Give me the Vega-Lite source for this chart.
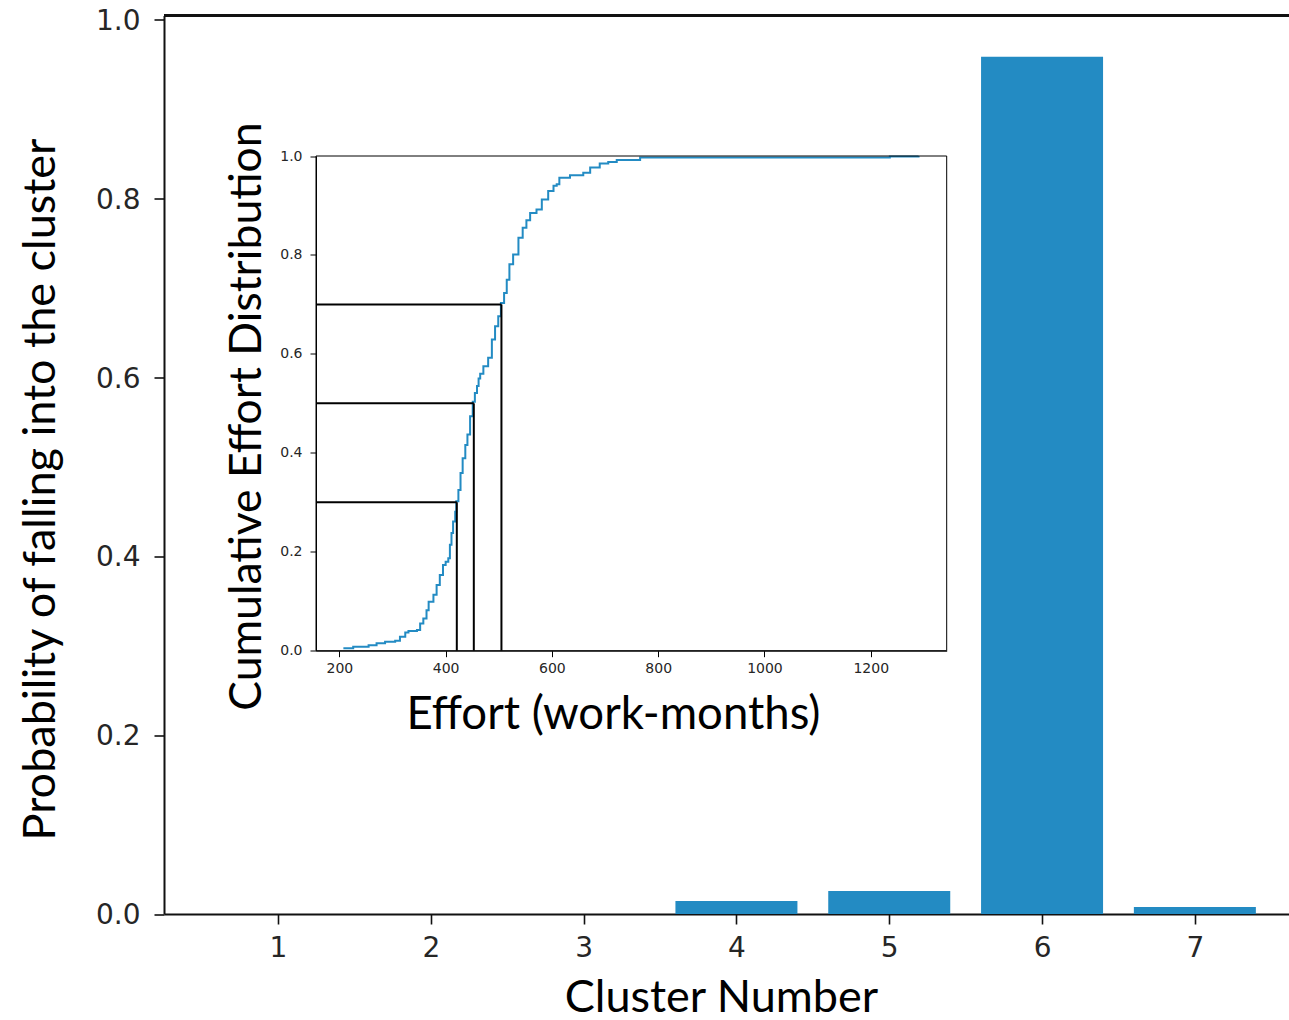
{
  "$schema": "https://vega.github.io/schema/vega-lite/v6.json",
  "width": 1125,
  "height": 898.5,
  "autosize": "none",
  "padding": {"left": 164, "top": 15.5, "right": 0, "bottom": 106},
  "background": "white",
  "config": {
    "view": {"stroke": null},
    "axis": {"grid": false, "domainColor": "#111", "tickColor": "#111", "labelColor": "#262626", "titleColor": "#000", "titleFontWeight": "normal", "labelFont": "DejaVu Sans", "labelOverlap": false}
  },
  "datasets": {
    "bars": [
      {"cluster": 1, "probability": 0},
      {"cluster": 2, "probability": 0},
      {"cluster": 3, "probability": 0},
      {"cluster": 4, "probability": 0.0145},
      {"cluster": 5, "probability": 0.0257},
      {"cluster": 6, "probability": 0.9588},
      {"cluster": 7, "probability": 0.0078}
    ],
    "cdf": [
      {"effort": 207.5, "cdf": 0.005},
      {"effort": 226, "cdf": 0.008},
      {"effort": 255, "cdf": 0.011},
      {"effort": 270, "cdf": 0.015},
      {"effort": 286, "cdf": 0.018},
      {"effort": 305, "cdf": 0.02},
      {"effort": 314, "cdf": 0.028},
      {"effort": 324, "cdf": 0.037},
      {"effort": 330, "cdf": 0.04},
      {"effort": 346, "cdf": 0.042},
      {"effort": 352, "cdf": 0.055},
      {"effort": 358, "cdf": 0.065},
      {"effort": 364, "cdf": 0.082},
      {"effort": 368, "cdf": 0.099},
      {"effort": 377, "cdf": 0.113},
      {"effort": 383, "cdf": 0.133},
      {"effort": 389, "cdf": 0.153},
      {"effort": 395, "cdf": 0.173},
      {"effort": 400, "cdf": 0.18},
      {"effort": 405, "cdf": 0.187},
      {"effort": 408, "cdf": 0.214},
      {"effort": 411, "cdf": 0.238},
      {"effort": 414, "cdf": 0.261},
      {"effort": 418, "cdf": 0.281},
      {"effort": 420, "cdf": 0.302},
      {"effort": 424, "cdf": 0.325},
      {"effort": 428, "cdf": 0.359},
      {"effort": 432, "cdf": 0.389},
      {"effort": 437, "cdf": 0.416},
      {"effort": 441, "cdf": 0.437},
      {"effort": 446, "cdf": 0.474},
      {"effort": 451, "cdf": 0.503},
      {"effort": 455, "cdf": 0.521},
      {"effort": 459, "cdf": 0.535},
      {"effort": 462, "cdf": 0.55},
      {"effort": 465, "cdf": 0.56},
      {"effort": 471, "cdf": 0.575},
      {"effort": 480, "cdf": 0.592},
      {"effort": 487, "cdf": 0.629},
      {"effort": 493, "cdf": 0.656},
      {"effort": 499, "cdf": 0.676},
      {"effort": 504, "cdf": 0.703},
      {"effort": 510, "cdf": 0.723},
      {"effort": 515, "cdf": 0.75},
      {"effort": 520, "cdf": 0.781},
      {"effort": 527, "cdf": 0.801},
      {"effort": 537, "cdf": 0.835},
      {"effort": 545, "cdf": 0.855},
      {"effort": 552, "cdf": 0.87},
      {"effort": 559, "cdf": 0.885},
      {"effort": 571, "cdf": 0.892},
      {"effort": 581, "cdf": 0.912},
      {"effort": 593, "cdf": 0.929},
      {"effort": 603, "cdf": 0.94},
      {"effort": 609, "cdf": 0.943},
      {"effort": 614, "cdf": 0.956},
      {"effort": 634, "cdf": 0.961},
      {"effort": 659, "cdf": 0.966},
      {"effort": 672, "cdf": 0.977},
      {"effort": 690, "cdf": 0.985},
      {"effort": 706, "cdf": 0.988},
      {"effort": 722, "cdf": 0.992},
      {"effort": 766, "cdf": 0.997},
      {"effort": 1236, "cdf": 0.999},
      {"effort": 1290, "cdf": 1.0}
    ],
    "quantiles": [
      {"effort": 421, "quantile": 0.3},
      {"effort": 453, "quantile": 0.5},
      {"effort": 505, "quantile": 0.7}
    ]
  },
  "layer": [
    {
      "data": {"name": "bars"},
      "layer": [
        {
          "mark": {"type": "bar", "width": 122, "color": "#238BC3"},
          "encoding": {
            "x": {
              "field": "cluster", "type": "quantitative",
              "scale": {"domain": [0.254, 7.616], "nice": false, "zero": false, "padding": 0},
              "axis": {"values": [1, 2, 3, 4, 5, 6, 7], "format": "d", "title": "Cluster Number", "labelFontSize": 28, "labelPadding": 10, "tickSize": 10, "tickWidth": 1.6, "domainWidth": 2, "labelFlush": false, "titleFont": "Lato", "titleFontSize": 45, "titleX": 557, "titleY": 97, "titleAlign": "center", "titleBaseline": "alphabetic"}
            },
            "y": {
              "field": "probability", "type": "quantitative",
              "scale": {"domain": [0, 1.00503], "nice": false, "padding": 0},
              "axis": {"values": [0, 0.2, 0.4, 0.6, 0.8, 1.0], "format": ".1f", "title": "Probability of falling into the cluster", "labelFontSize": 28, "labelPadding": 14, "labelOffset": 1.5, "tickSize": 10, "tickWidth": 1.6, "domainWidth": 2, "titleFont": "Lato", "titleFontSize": 45, "titleX": -110, "titleY": 473.5, "titleAngle": 270, "titleAlign": "center", "titleBaseline": "alphabetic"}
            }
          }
        },
        {
          "mark": {"type": "rule", "color": "#111", "strokeWidth": 2},
          "encoding": {"y": {"datum": 1.00503, "type": "quantitative"}}
        }
      ]
    },
    {
      "layer": [
        {
          "data": {"name": "cdf"},
          "mark": {"type": "line", "interpolate": "step-after", "color": "#238BC3", "strokeWidth": 2},
          "encoding": {
            "x": {
              "field": "effort", "type": "quantitative",
              "scale": {"domain": [156, 1343], "range": [152, 782.7], "nice": false, "zero": false},
              "axis": {"orient": "bottom", "offset": -263.3, "values": [200, 400, 600, 800, 1000, 1200], "format": "d", "title": "Effort (work-months)", "labelFontSize": 14, "labelPadding": 5, "tickSize": 6, "tickWidth": 1, "domainWidth": 1, "domainColor": "#000", "tickColor": "#000", "labelFlush": false, "titleFont": "Lato", "titleFontSize": 45.5, "titleX": 449, "titleY": 78, "titleAlign": "center", "titleBaseline": "alphabetic"}
            },
            "y": {
              "field": "cdf", "type": "quantitative",
              "scale": {"domain": [0, 1], "range": [635.2, 140.5], "nice": false},
              "axis": {"orient": "left", "offset": -152, "values": [0, 0.2, 0.4, 0.6, 0.8, 1.0], "format": ".1f", "title": "Cumulative Effort Distribution", "labelFontSize": 14, "labelPadding": 8, "tickSize": 6, "tickWidth": 1, "domainWidth": 1, "domainColor": "#000", "tickColor": "#000", "titleFont": "Lato", "titleFontSize": 44.5, "titleX": -56, "titleY": 400.5, "titleAngle": 270, "titleAlign": "center", "titleBaseline": "alphabetic"}
            }
          }
        },
        {
          "data": {"name": "quantiles"},
          "mark": {"type": "rule", "color": "#000", "strokeWidth": 2},
          "encoding": {
            "x": {"field": "effort", "type": "quantitative", "title": "Effort (work-months)"},
            "y": {"field": "quantile", "type": "quantitative", "title": "Cumulative Effort Distribution"},
            "y2": {"datum": 0}
          }
        },
        {
          "data": {"name": "quantiles"},
          "mark": {"type": "rule", "color": "#000", "strokeWidth": 2},
          "encoding": {
            "y": {"field": "quantile", "type": "quantitative", "title": "Cumulative Effort Distribution"},
            "x": {"field": "effort", "type": "quantitative", "title": "Effort (work-months)"},
            "x2": {"datum": 156}
          }
        },
        {
          "data": {"values": [{"frame": "inset"}]},
          "mark": {"type": "rect", "fillOpacity": 0, "stroke": "#000", "strokeWidth": 1},
          "encoding": {
            "x": {"datum": 156, "type": "quantitative", "title": "Effort (work-months)"},
            "x2": {"datum": 1343},
            "y": {"datum": 0, "type": "quantitative", "title": "Cumulative Effort Distribution"},
            "y2": {"datum": 1}
          }
        }
      ]
    }
  ],
  "resolve": {
    "scale": {"x": "independent", "y": "independent"},
    "axis": {"x": "independent", "y": "independent"}
  }
}
